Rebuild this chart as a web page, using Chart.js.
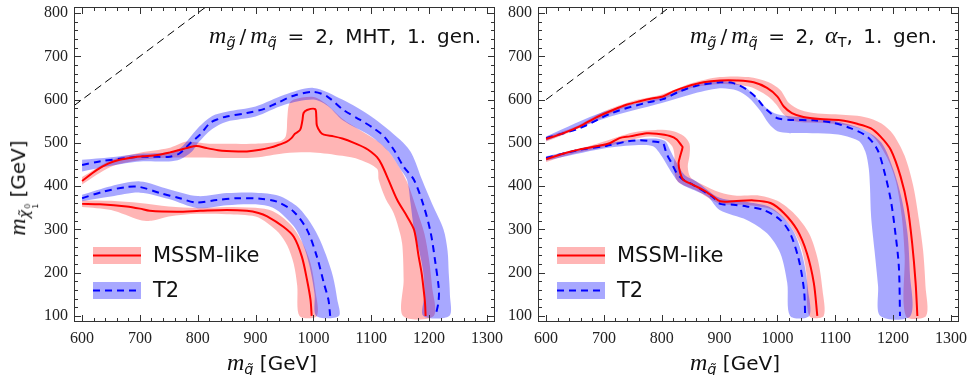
<!DOCTYPE html>
<html><head><meta charset="utf-8">
<script src="https://cdn.jsdelivr.net/npm/chart.js@4.4.1/dist/chart.umd.min.js"></script>
<style>
html,body{margin:0;padding:0;background:#fff;}
#wrap{position:relative;width:967px;height:375px;overflow:hidden;background:#fff;}
canvas{position:absolute;top:0;}
.txt{position:absolute;white-space:nowrap;font-family:"DejaVu Sans",sans-serif;color:#111;line-height:1;}
.mi{font-family:"Liberation Serif",serif;font-style:italic;font-size:1.2em;}
.sb{font-size:0.72em;position:relative;top:0.3em;}
.it{font-style:italic;}
.stk{display:inline-flex;flex-direction:column;font-size:0.55em;line-height:0.95;vertical-align:-0.1em;margin-left:1px;font-style:normal;}
</style></head><body>
<div id="wrap">
<canvas id="cL" width="512" height="375" style="left:0;width:512px;height:375px"></canvas>
<canvas id="cR" width="467" height="375" style="left:500px;width:467px;height:375px"></canvas>

<div id="annL" class="txt" style="right:486px;top:23px;font-size:20px"><span class="mi">m</span><span class="sb it">g&#771;</span>&thinsp;/&thinsp;<span class="mi">m</span><span class="sb it">q&#771;</span> = 2, MHT, 1. gen.</div>
<div id="annR" class="txt" style="right:30px;top:23px;font-size:20px"><span class="mi">m</span><span class="sb it">g&#771;</span>&thinsp;/&thinsp;<span class="mi">m</span><span class="sb it">q&#771;</span> = 2, <span class="mi">&alpha;</span><span class="sb">T</span>, 1. gen.</div>

<div class="txt" style="left:227px;top:350px;font-size:20px"><span class="mi">m</span><span class="sb it">q&#771;</span> [GeV]</div>
<div class="txt" style="left:690px;top:350px;font-size:20px"><span class="mi">m</span><span class="sb it">q&#771;</span> [GeV]</div>
<div class="txt" style="left:20px;top:188px;font-size:20px;transform:translate(-50%,-50%) rotate(-90deg)"><span class="mi">m</span><span class="sb it">&chi;&#771;<span class="stk"><span>0</span><span>1</span></span></span> [GeV]</div>
</div>
<script>
// ---------- axes ----------
const xTickValues = [600, 700, 800, 900, 1000, 1100, 1200, 1300];
const yTickValues = [100, 200, 300, 400, 500, 600, 700, 800];
const legendLabels = ['MSSM-like', 'T2'];

// ---------- left panel: MHT ----------
const mhtMssmUpper = [[600,412],[625,437],[645,452],[665,461],[690,467],[705,469],[730,472],[752,478],[770,484],[781,488],[798,493],[815,488],[835,483],[850,481],[870,480],[885,480],[908,484],[925,489],[937,494],[954,503],[962,511],[968,521],[977,530],[981,552],[983,569],[989,576],[1003,578],[1005,560],[1006,540],[1012,525],[1018,519],[1035,515],[1050,510],[1070,500],[1090,488],[1100,479],[1110,467],[1118,450],[1130,414],[1145,368],[1162,330],[1174,299],[1182,237],[1187,200],[1190,168],[1193,130],[1194,100]];
const mhtT2Upper = [[600,449],[630,457],[677,465],[700,468],[723,468],[752,468],[769,476],[787,499],[804,519],[821,546],[835,555],[850,561],[885,569],[914,578],[937,592],[966,609],[1000,618],[1024,607],[1052,576],[1081,553],[1104,534],[1122,515],[1139,484],[1156,445],[1174,414],[1191,353],[1203,291],[1211,222],[1217,160],[1216,130],[1211,100]];
const mhtMssmLower = [[600,359],[631,358],[677,353],[700,348],[717,343],[764,341],[804,343],[850,345],[885,343],[905,338],[920,330],[948,306],[966,283],[980,237],[989,183],[995,137],[997,100]];
const mhtT2Lower = [[600,372],[636,387],[677,398],[700,398],[735,384],[769,372],[798,362],[833,368],[868,372],[908,371],[937,364],[966,341],[989,299],[1006,237],[1018,176],[1026,137],[1029,100]];

const mhtMssmUpperBandHi = [[600,421],[650,460],[700,477],[750,488],[780,503],[800,501],[820,498],[850,498],[900,498],[940,503],[952,515],[955,560],[958,590],[966,600],[1000,606],[1020,592],[1050,556],[1080,530],[1110,505],[1130,480],[1150,440],[1165,400],[1180,340],[1192,290],[1200,230],[1205,170],[1208,100]];
const mhtMssmUpperBandLo = [[600,404],[650,445],[700,460],[750,466],[800,466],[850,465],[900,466],[950,476],[1000,478],[1050,470],[1080,461],[1110,440],[1113,414],[1125,370],[1139,337],[1150,290],[1154,260],[1156,183],[1155,100]];
const mhtT2UpperBandHi = [[600,461],[650,467],[700,475],[750,478],[770,488],[785,510],[800,534],[825,562],[850,572],[900,584],[950,611],[1000,627],[1050,600],[1100,561],[1150,507],[1170,475],[1188,414],[1205,360],[1225,300],[1232,250],[1234,200],[1236,150],[1235,100]];
const mhtT2UpperBandLo = [[600,434],[650,447],[700,457],[750,457],[770,462],[790,480],[800,499],[825,532],[850,549],[900,561],[950,588],[1000,600],[1025,585],[1050,553],[1100,515],[1130,480],[1150,440],[1162,414],[1168,360],[1174,300],[1183,250],[1190,200],[1192,150],[1190,100]];
const mhtMssmLowerBandHi = [[600,367],[650,366],[700,361],[750,353],[800,350],[850,352],[900,350],[930,342],[960,312],[980,272],[995,222],[1003,162],[1006,100]];
const mhtMssmLowerBandLo = [[600,352],[650,345],[700,322],[720,320],[750,330],[800,336],[850,335],[900,330],[920,315],[940,292],[955,262],[966,220],[972,170],[976,100]];
const mhtT2LowerBandHi = [[600,380],[650,400],[700,411],[750,393],[800,377],[850,384],[900,385],[940,378],[970,355],[990,325],[1008,285],[1022,240],[1034,190],[1041,140],[1044,100]];
const mhtT2LowerBandLo = [[600,365],[650,376],[700,385],[750,370],[800,349],[850,356],[900,358],[930,350],[950,330],[970,300],[985,255],[995,205],[1002,150],[1005,100]];
const mhtDiagonal = [[586,586],[814,814]];

// ---------- right panel: alphaT ----------
const atMssmUpper = [[600,509],[629,522],[658,538],[687,559],[716,576],[739,588],[762,596],[785,603],[802,607],[820,619],[843,630],[872,640],[901,644],[930,644],[959,640],[982,627],[1000,607],[1011,584],[1025,569],[1045,560],[1074,555],[1109,552],[1138,544],[1161,534],[1178,515],[1196,484],[1213,422],[1225,353],[1233,268],[1239,176],[1242,100]];
const atT2Upper = [[600,511],[658,534],[716,570],[774,593],[802,601],[831,619],[860,632],[901,640],[924,638],[947,623],[964,604],[976,584],[988,569],[1000,557],[1022,553],[1063,552],[1097,546],[1126,534],[1155,515],[1173,484],[1184,438],[1196,368],[1204,291],[1210,214],[1212,100]];
const atMssmLower = [[600,462],[629,475],[658,485],[687,492],[710,499],[727,511],[745,515],[774,522],[791,521],[814,516],[826,508],[834,494],[836,490],[832,470],[829,453],[832,430],[837,415],[854,403],[872,391],[889,376],[901,365],[924,365],[959,367],[988,361],[1011,338],[1034,299],[1051,245],[1063,176],[1069,100]];
const atT2Lower = [[600,465],[658,484],[704,493],[739,503],[762,506],[785,503],[802,499],[806,485],[808,476],[817,453],[826,430],[837,415],[854,403],[889,374],[901,359],[924,357],[947,353],[976,345],[1005,322],[1022,291],[1037,230],[1046,160],[1048,100]];

const atMssmUpperBandHi = [[600,514],[650,537],[700,573],[750,597],[800,612],[850,637],[900,652],[950,652],[985,640],[1005,622],[1020,592],[1040,576],[1070,568],[1100,566],[1150,560],[1180,545],[1200,520],[1220,470],[1235,400],[1245,320],[1252,250],[1256,170],[1257,100]];
const atMssmUpperBandLo = [[600,503],[650,530],[700,560],[750,588],[800,600],[850,626],[900,636],[950,630],[975,615],[990,600],[1000,585],[1010,567],[1030,550],[1100,544],[1150,530],[1170,508],[1190,465],[1205,410],[1215,330],[1220,240],[1222,100]];
const atT2UpperBandHi = [[600,515],[700,572],[800,606],[850,632],[900,643],[940,632],[960,610],[980,582],[1000,566],[1050,558],[1100,550],[1150,530],[1180,500],[1200,440],[1215,370],[1225,290],[1229,200],[1230,100]];
const atT2UpperBandLo = [[600,505],[700,556],[800,592],[850,612],[900,626],[930,621],[950,605],[970,575],[985,545],[1000,527],[1020,523],[1100,520],[1140,505],[1152,480],[1158,440],[1160,400],[1162,330],[1168,250],[1174,170],[1178,100]];
const atMssmLowerBandHi = [[600,468],[650,483],[700,503],[750,524],[790,530],[820,527],[838,516],[848,498],[848,470],[845,445],[850,420],[870,404],[900,386],[930,378],[970,378],[1000,366],[1030,335],[1055,290],[1070,230],[1078,160],[1080,100]];
const atMssmLowerBandLo = [[600,456],[650,476],[700,490],[750,508],[780,515],[805,508],[818,492],[822,470],[821,440],[828,410],[860,390],[900,360],[950,356],[990,346],[1020,312],[1040,262],[1050,200],[1055,100]];
const atT2LowerBandHi = [[600,469],[700,498],[780,510],[805,505],[815,482],[825,456],[840,425],[860,411],[900,373],[950,363],[985,353],[1010,328],[1030,290],[1045,230],[1053,160],[1055,100]];
const atT2LowerBandLo = [[600,459],[700,487],[760,495],[785,492],[800,469],[814,438],[831,407],[860,388],[880,375],[900,345],[947,322],[982,291],[1005,245],[1017,176],[1022,100]];
const atDiagonal = [[600,600],[814,814]];

// ---------- styling ----------
const RED = '#ff0000', BLUE = '#0000ff';
const PINK = 'rgba(255,0,0,0.29)', LBLUE = 'rgba(0,0,255,0.34)';
const MINOR = 20;

const pts = a => a.map(([x, y]) => ({x, y}));
const band = (hi, lo) => pts(hi.concat(lo.slice().reverse()));

function bandDs(hi, lo, color, order) {
  return {data: band(hi, lo), fill: 'shape', backgroundColor: color, borderWidth: 0,
          pointRadius: 0, tension: 0.3, order};
}
function lineDs(a, color, dash, order) {
  return {data: pts(a), fill: false, borderColor: color, borderWidth: 2, borderDash: dash,
          pointRadius: 0, tension: 0.3, order};
}

const framePlugin = {
  id: 'frame',
  afterDatasetsDraw(chart) {
    const {ctx, chartArea: a, scales: {x, y}} = chart;
    ctx.save();
    ctx.strokeStyle = '#333';
    ctx.lineWidth = 1;
    ctx.strokeRect(Math.round(a.left) + 0.5, Math.round(a.top) + 0.5,
                   Math.round(a.right - a.left) - 1, Math.round(a.bottom - a.top) - 1);
    ctx.beginPath();
    const x0 = xTickValues[0], x1 = xTickValues[xTickValues.length - 1];
    for (let v = x0; v <= x1; v += MINOR) {
      const L = (v % 100 === 0) ? 7 : 4;
      const p = Math.round(x.getPixelForValue(v)) + 0.5;
      ctx.moveTo(p, a.bottom); ctx.lineTo(p, a.bottom - L);
      ctx.moveTo(p, a.top); ctx.lineTo(p, a.top + L);
    }
    const y0 = yTickValues[0], y1 = yTickValues[yTickValues.length - 1];
    for (let v = y0; v <= y1; v += MINOR) {
      const L = (v % 100 === 0) ? 7 : 4;
      const p = Math.round(y.getPixelForValue(v)) + 0.5;
      ctx.moveTo(a.left, p); ctx.lineTo(a.left + L, p);
      ctx.moveTo(a.right, p); ctx.lineTo(a.right - L, p);
    }
    ctx.stroke();

    // legend
    const lx = a.left + 19, sw = 48, sh = 17;
    const rows = [247, 282];
    const fills = [PINK, LBLUE], strokes = [RED, BLUE], dashes = [[], [7, 5]];
    ctx.font = '21px "DejaVu Sans"';
    ctx.textBaseline = 'middle';
    legendLabels.forEach((lab, i) => {
      ctx.fillStyle = fills[i];
      ctx.fillRect(lx, rows[i], sw, sh);
      ctx.beginPath();
      ctx.setLineDash(dashes[i]);
      ctx.strokeStyle = strokes[i];
      ctx.lineWidth = 2;
      ctx.moveTo(lx, rows[i] + sh / 2); ctx.lineTo(lx + sw, rows[i] + sh / 2);
      ctx.stroke();
      ctx.setLineDash([]);
      ctx.fillStyle = '#111';
      ctx.fillText(lab, lx + sw + 12, rows[i] + sh / 2 + 1);
    });
    ctx.restore();
  }
};

function makeChart(id, sets, yWidth, padRight) {
  const [mU, tU, mL, tL, mUh, mUl, tUh, tUl, mLh, mLl, tLh, tLl, diag] = sets;
  new Chart(document.getElementById(id), {
    type: 'line',
    data: {datasets: [
      lineDs(mU, RED, [], 0),
      lineDs(tU, BLUE, [7, 5], 0),
      lineDs(mL, RED, [], 0),
      lineDs(tL, BLUE, [7, 5], 0),
      {data: pts(diag), borderColor: '#000', borderWidth: 1, borderDash: [8, 5], pointRadius: 0, fill: false, order: 1},
      bandDs(tUh, tUl, LBLUE, 2),
      bandDs(tLh, tLl, LBLUE, 2),
      bandDs(mUh, mUl, PINK, 3),
      bandDs(mLh, mLl, PINK, 3)
    ]},
    options: {
      responsive: false, animation: false, devicePixelRatio: 1,
      layout: {padding: {left: 0, right: padRight, top: 7, bottom: 0}},
      plugins: {legend: {display: false}, tooltip: {enabled: false}},
      scales: {
        x: {type: 'linear', min: 586, max: 1314,
            grid: {display: false, drawTicks: false}, border: {display: false},
            afterBuildTicks: s => { s.ticks = xTickValues.map(v => ({value: v})); },
            afterFit: s => { s.height = 53; s.paddingLeft = 0; s.paddingRight = 0; },
            ticks: {padding: 7, color: '#222', font: {family: 'Liberation Serif', size: 16}, maxRotation: 0, autoSkip: false,
                    callback: v => String(v)}},
        y: {type: 'linear', min: 86, max: 814,
            grid: {display: false, drawTicks: false}, border: {display: false},
            afterBuildTicks: s => { s.ticks = yTickValues.map(v => ({value: v})); },
            afterFit: s => { s.width = yWidth; s.paddingTop = 0; s.paddingBottom = 0; },
            ticks: {padding: 6, color: '#222', font: {family: 'Liberation Serif', size: 16}, autoSkip: false,
                    callback: v => String(v)}}
      }
    },
    plugins: [framePlugin]
  });
}

makeChart('cL', [mhtMssmUpper, mhtT2Upper, mhtMssmLower, mhtT2Lower,
                 mhtMssmUpperBandHi, mhtMssmUpperBandLo, mhtT2UpperBandHi, mhtT2UpperBandLo,
                 mhtMssmLowerBandHi, mhtMssmLowerBandLo, mhtT2LowerBandHi, mhtT2LowerBandLo, mhtDiagonal], 74, 17);
makeChart('cR', [atMssmUpper, atT2Upper, atMssmLower, atT2Lower,
                 atMssmUpperBandHi, atMssmUpperBandLo, atT2UpperBandHi, atT2UpperBandLo,
                 atMssmLowerBandHi, atMssmLowerBandLo, atT2LowerBandHi, atT2LowerBandLo, atDiagonal], 38, 8);

// widen the in-plot annotations to the reference's width by spacing out words
function fitWidth(id, target) {
  const el = document.getElementById(id);
  const n = (el.textContent.match(/ /g) || []).length;
  const w = el.getBoundingClientRect().width;
  if (n > 0 && w < target) el.style.wordSpacing = ((target - w) / n).toFixed(2) + 'px';
}
fitWidth('annL', 272);
fitWidth('annR', 247);
</script>
</body></html>
